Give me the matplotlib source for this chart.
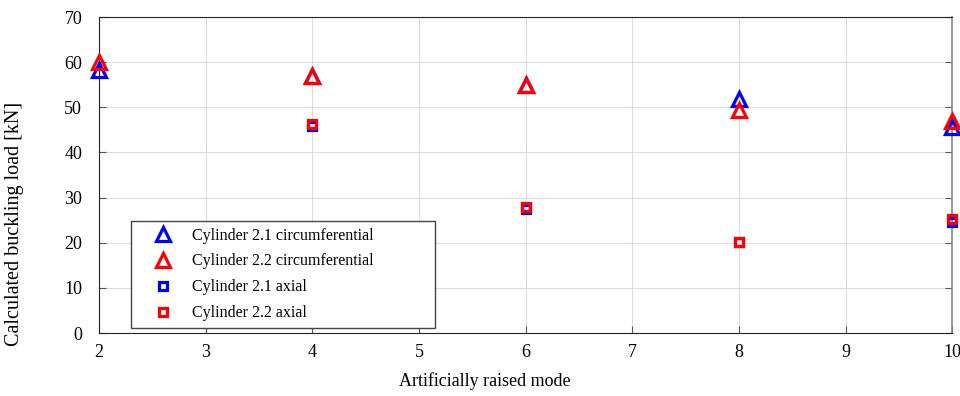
import matplotlib
matplotlib.use("Agg")
import matplotlib.pyplot as plt

plt.rcParams['font.family'] = ['Liberation Serif', 'DejaVu Serif']

# data
mode_circ = [2, 4, 6, 8, 10]
circ_21 = [58.3, 57.0, 55.0, 51.8, 45.6]
circ_22 = [60.0, 57.0, 55.0, 49.4, 46.9]

mode_axial = [4, 6, 8, 10]
axial_21 = [45.8, 27.5, 20.2, 24.5]
axial_22 = [46.2, 28.0, 20.2, 25.3]

fig = plt.figure(figsize=(9.6, 3.96), dpi=100)
ax = fig.add_axes([0.103, 0.159, 0.889, 0.798])

tri = dict(linestyle='none', marker='^', markersize=10, markerfacecolor='none',
           markeredgewidth=2.3, clip_on=False, zorder=3)
sq = dict(linestyle='none', marker='s', markersize=6, markerfacecolor='none',
          markeredgewidth=2.3, clip_on=False, zorder=3)

ax.plot(mode_circ, circ_21, markeredgecolor='blue', label='Cylinder 2.1 circumferential', **tri)
ax.plot(mode_circ, circ_22, markeredgecolor='red', label='Cylinder 2.2 circumferential', **tri)
ax.plot(mode_axial, axial_21, markeredgecolor='blue', label='Cylinder 2.1 axial', **sq)
ax.plot(mode_axial, axial_22, markeredgecolor='red', label='Cylinder 2.2 axial', **sq)

ax.set_xlim(2, 10)
ax.set_ylim(0, 70)
ax.set_xticks(range(2, 11))
ax.set_yticks(range(0, 71, 10))
ax.grid(True, color='#dddddd', linewidth=0.8)
ax.set_axisbelow(True)
ax.tick_params(direction='in', length=5, labelsize=13, top=False, right=True,
               color='#555555')
ax.tick_params(axis='x', pad=8)
ax.tick_params(axis='y', pad=12)
for lbl in ax.get_yticklabels():
    lbl.set_verticalalignment('center_baseline')
for side in ['left', 'bottom', 'top']:
    ax.spines[side].set_color('#222222')
ax.spines['right'].set_color('#888888')
ax.spines['right'].set_linewidth(1.2)

ax.set_xlabel('Artificially raised mode', fontsize=13)
ax.xaxis.set_label_coords(0.4525, -0.125)
ax.set_ylabel('Calculated buckling load [kN]', fontsize=14.5)
ax.yaxis.set_label_coords(-0.088, 0.345)

leg = ax.legend(loc='lower left', bbox_to_anchor=(0.0375, 0.016, 0.356, 0.33),
                mode='expand', fontsize=11.5, fancybox=False, framealpha=1,
                edgecolor='#444444', borderpad=0.42, handletextpad=0.2,
                labelspacing=0.62, borderaxespad=0, handlelength=3.2)
leg.get_frame().set_linewidth(1.0)

fig.savefig('out.png', dpi=100)
